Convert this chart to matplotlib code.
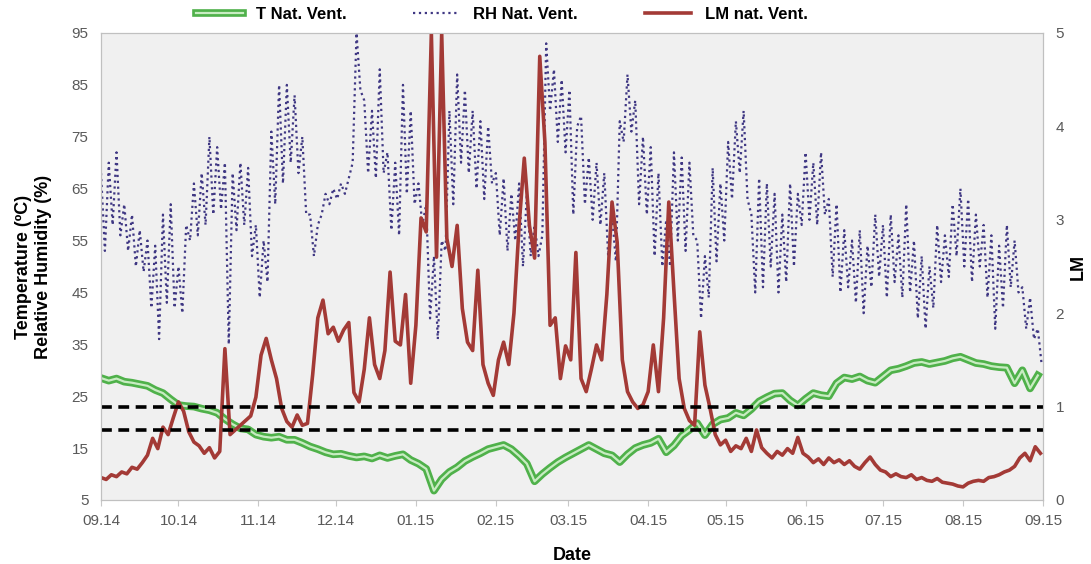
import matplotlib
matplotlib.use('Agg')
import matplotlib.pyplot as plt
import matplotlib.dates as mdates
import matplotlib.patheffects as pe
import pandas as pd

# readings start on 1 Sept 2014, one year of natural ventilation data
start = '2014-09-01'
end = '2015-09-01'

# temperature (C), every 3 days
t_vals = [
    28.5, 28.0, 28.4, 27.8, 27.6, 27.3, 27.0, 26.2, 25.6, 24.4,
    23.3, 23.1, 23.0, 22.6, 22.3, 21.8, 20.6, 19.6, 18.8, 18.6,
    17.6, 17.2, 17.0, 17.2, 16.6, 16.6, 16.0, 15.3, 14.8, 14.2,
    13.8, 13.9, 13.5, 13.2, 13.4, 13.0, 13.6, 13.1, 13.5, 13.8,
    12.7, 12.0, 11.0, 6.8, 9.0, 10.4, 11.3, 12.5, 13.3, 14.0,
    14.8, 15.2, 15.6, 14.8, 13.5, 12.0, 8.6, 10.0, 11.2, 12.3,
    13.2, 14.0, 14.8, 15.6, 14.8, 14.0, 13.6, 12.3, 13.8, 15.0,
    15.6, 16.0, 16.8, 14.2, 15.5, 17.4, 18.5, 19.8, 17.5, 19.6,
    20.5, 20.8, 21.8, 21.3, 22.5, 24.0, 24.8, 25.5, 25.6, 24.2,
    23.2, 24.5, 25.6, 25.2, 25.0, 27.5, 28.6, 28.3, 28.8, 28.0,
    27.6, 28.8, 30.0, 30.3, 30.8, 31.4, 31.6, 31.2, 31.5, 31.8,
    32.3, 32.6, 32.0, 31.4, 31.2, 30.8, 30.6, 30.5, 27.5, 30.0,
    26.5, 29.0,
]

# relative humidity (%), every 36 hours
rh_vals = [
    68, 53, 70, 58, 72, 56, 62, 53, 60, 50,
    57, 49, 55, 42, 54, 36, 60, 43, 62, 42,
    50, 41, 58, 55, 66, 56, 68, 58, 75, 60,
    73, 61, 70, 35, 68, 57, 70, 58, 69, 52,
    58, 44, 55, 47, 76, 62, 85, 66, 85, 70,
    83, 68, 75, 60, 60, 52, 58, 60, 64, 62,
    65, 63, 66, 64, 67, 70, 95, 84, 82, 68,
    80, 67, 88, 68, 72, 57, 70, 56, 85, 64,
    80, 62, 66, 58, 62, 40, 52, 36, 55, 53,
    80, 62, 87, 70, 84, 68, 80, 65, 78, 63,
    77, 66, 68, 56, 67, 53, 64, 55, 66, 50,
    64, 52, 58, 52, 56, 93, 80, 88, 74, 86,
    72, 84, 60, 77, 79, 62, 71, 59, 70, 58,
    68, 52, 60, 51, 78, 74, 87, 76, 82, 62,
    75, 60, 73, 52, 68, 50, 59, 50, 72, 55,
    71, 53, 70, 56, 55, 40, 52, 44, 69, 51,
    66, 55, 74, 63, 78, 68, 80, 63, 60, 45,
    67, 46, 66, 50, 64, 45, 60, 47, 66, 50,
    64, 58, 72, 59, 70, 58, 72, 60, 63, 48,
    62, 45, 57, 46, 55, 43, 57, 41, 54, 46,
    60, 48, 58, 44, 60, 47, 56, 44, 62, 45,
    55, 40, 52, 38, 50, 42, 58, 47, 56, 48,
    62, 52, 65, 50, 63, 47, 60, 50, 58, 44,
    56, 38, 54, 42, 58, 46, 55, 45, 46, 38,
    44, 36, 38, 31,
]

# LM, every 2 days
lm_vals = [
    0.24, 0.22, 0.27, 0.25, 0.30, 0.28, 0.35, 0.33, 0.40, 0.48,
    0.66, 0.55, 0.78, 0.70, 0.88, 1.05, 0.95, 0.73, 0.62, 0.58,
    0.50, 0.56, 0.45, 0.52, 1.62, 0.70, 0.75, 0.80, 0.85, 0.90,
    1.10, 1.55, 1.73, 1.50, 1.30, 0.98, 0.84, 0.78, 0.91, 0.80,
    0.82, 1.34, 1.95, 2.14, 1.78, 1.85, 1.70, 1.82, 1.90, 1.15,
    1.05, 1.40, 1.95, 1.45, 1.30, 1.60, 2.44, 1.70, 1.66, 2.20,
    1.25, 1.87, 3.02, 2.87, 5.00, 2.60, 5.00, 2.80, 2.50, 2.94,
    2.05, 1.69, 1.60, 2.46, 1.45, 1.25, 1.12, 1.50, 1.69, 1.45,
    2.00, 2.94, 3.66, 2.94, 2.59, 4.75, 3.83, 1.87, 1.95, 1.30,
    1.65, 1.50, 2.65, 1.30, 1.16, 1.40, 1.66, 1.50, 2.20, 3.19,
    2.76, 1.50, 1.16, 1.05, 0.98, 1.02, 1.16, 1.66, 1.16, 1.95,
    3.19, 2.23, 1.30, 0.98, 0.85, 0.80, 1.80, 1.23, 0.98, 0.70,
    0.59, 0.64, 0.52, 0.58, 0.55, 0.66, 0.52, 0.75, 0.56, 0.50,
    0.45, 0.52, 0.48, 0.55, 0.50, 0.67, 0.50, 0.46, 0.40, 0.44,
    0.38, 0.45, 0.40, 0.43, 0.38, 0.42, 0.36, 0.33, 0.40, 0.46,
    0.38, 0.32, 0.30, 0.25, 0.28, 0.25, 0.24, 0.27, 0.22, 0.24,
    0.21, 0.20, 0.23, 0.19, 0.18, 0.17, 0.15, 0.14, 0.18, 0.20,
    0.21, 0.20, 0.24, 0.25, 0.27, 0.30, 0.32, 0.36, 0.45, 0.50,
    0.42, 0.57, 0.50,
]

# LM reference limits (dashed lines)
lm_limits = [0.75, 1.0]

t_dates = pd.date_range(start, periods=len(t_vals), freq='3D')
rh_dates = pd.date_range(start, periods=len(rh_vals), freq='36h')
lm_dates = pd.date_range(start, periods=len(lm_vals), freq='2D')

plt.rcParams['font.family'] = ['Liberation Sans', 'DejaVu Sans']

fig = plt.figure(figsize=(10.91, 5.64), dpi=100)
ax1 = fig.add_axes([0.0926, 0.1135, 0.8634, 0.828])
ax1.set_facecolor('#f0f0f0')
ax2 = ax1.twinx()

l1, = ax1.plot(t_dates, t_vals, color='#c8ecc2', lw=1.6, label='T Nat. Vent.',
               path_effects=[pe.Stroke(linewidth=5.5, foreground='#4fb14a'), pe.Normal()])
l2, = ax1.plot(rh_dates, rh_vals, color='#3f3783', lw=1.6, ls=':', label='RH Nat. Vent.')
l3, = ax2.plot(lm_dates, lm_vals, color='#a33a36', lw=2.6, label='LM nat. Vent.')
for v in lm_limits:
    ax2.axhline(v, color='black', lw=2.6, dashes=(3, 1.8))

ax1.set_xlim(pd.Timestamp(start), pd.Timestamp(end))
ax1.set_ylim(5, 95)
ax1.set_yticks(range(5, 96, 10))
ax2.set_ylim(0, 5)
ax2.set_yticks(range(0, 6))

ax1.xaxis.set_major_locator(mdates.MonthLocator())
ax1.xaxis.set_major_formatter(mdates.DateFormatter('%m.%y'))

ax1.tick_params(axis='y', length=0, labelsize=11, labelcolor='#595959', pad=9)
ax2.tick_params(axis='y', length=0, labelsize=11, labelcolor='#595959', pad=9)
ax1.tick_params(axis='x', length=4, color='#c8c8c8', labelsize=11, labelcolor='#595959', pad=6)

for ax in (ax1, ax2):
    for sp in ax.spines.values():
        sp.set_color('#c0c0c0')

ax1.set_ylabel('Temperature (ºC)\nRelative Humidity (%)', fontsize=13, fontweight='bold', labelpad=14)
ax2.set_ylabel('LM', fontsize=13, fontweight='bold', labelpad=4)
ax1.set_xlabel('Date', fontsize=13, fontweight='bold', labelpad=14)

fig.legend(handles=[l1, l2, l3], loc='center', bbox_to_anchor=(0.46, 0.975), ncol=3,
           frameon=False, prop={'weight': 'bold', 'size': 12}, handlelength=2.8,
           columnspacing=4)

fig.savefig('out.png', dpi=100)
